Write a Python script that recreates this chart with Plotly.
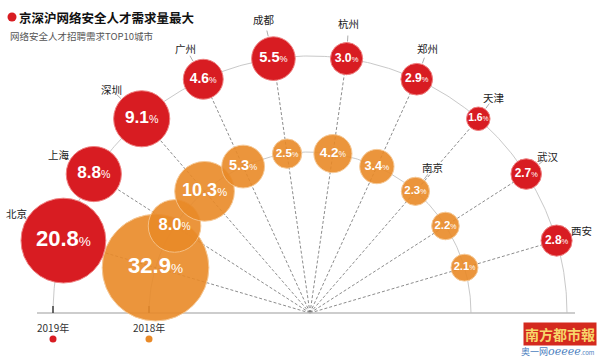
import numpy as np
import plotly.graph_objects as go

# ---------------- data ----------------
cities_2019 = ["北京", "上海", "深圳", "广州", "成都", "杭州", "郑州", "天津", "武汉", "西安"]
share_2019 = [20.8, 8.8, 9.1, 4.6, 5.5, 3.0, 2.9, 1.6, 2.7, 2.8]
share_2018 = [32.9, 8.0, 10.3, 5.3, 2.5, 4.2, 3.4, 2.3, 2.2, 2.1]
labels_2018 = ["", "", "", "", "", "", "", "南京", "", ""]
year_labels = ["2019年", "2018年"]
title_text = "京深沪网络安全人才需求量最大"
subtitle_text = "网络安全人才招聘需求TOP10城市"

# ---------------- geometry / style ----------------
W, H = 600, 361
CX, CY = 310, 313
R_OUT, R_IN = 257, 161
K = 9.3                      # radius (px) per sqrt(percent)
RED = "#d81c22"
ORANGE = "#e98a28"
FONT_CJK = "Noto Sans CJK SC"
FONT_NUM = "Liberation Sans, Arial, sans-serif"

n = len(cities_2019)
theta = np.deg2rad(180 - 180 * (np.arange(n) + 1) / (n + 1))


def polar(R, th):
    return CX + R * np.cos(th), CY - R * np.sin(th)


def radius(v):
    return K * np.sqrt(np.asarray(v, dtype=float))


def pct_text(vals):
    out, sizes = [], []
    for v, r in zip(vals, radius(vals)):
        fs = min(22.0, 5.5 + 0.42 * r)
        sizes.append(fs)
        out.append(f"<b>{v:.1f}</b><span style='font-size:{fs*0.62:.1f}px'>%</span>")
    return out, sizes


fig = go.Figure()

# arcs
t = np.linspace(0, np.pi, 300)
for R in (R_OUT, R_IN):
    ax_, ay_ = polar(R, t)
    fig.add_trace(go.Scatter(x=ax_, y=ay_, mode="lines",
                             line=dict(color="#c9c9c9", width=1), hoverinfo="skip"))

# dashed rays centre -> 2019 circles
xo, yo = polar(R_OUT, theta)
rx, ry = [], []
for x1, y1 in zip(xo, yo):
    rx += [CX, x1, None]
    ry += [CY, y1, None]
fig.add_trace(go.Scatter(x=rx, y=ry, mode="lines",
                         line=dict(color="#6e6e6e", width=0.8, dash="3px,2px"),
                         hoverinfo="skip"))

# baseline and ticks
fig.add_trace(go.Scatter(x=[37, 575], y=[CY, CY], mode="lines",
                         line=dict(color="#bdbdbd", width=1.3), hoverinfo="skip"))
tx, ty = [], []
for R in (R_OUT, R_IN):
    tx += [CX - R, CX - R, None]
    ty += [CY - 7, CY, None]
fig.add_trace(go.Scatter(x=tx, y=ty, mode="lines",
                         line=dict(color="#333333", width=1.4), hoverinfo="skip"))

sizeref = 1.0 / (2 * K ** 2)

# 2018 circles
xi, yi = polar(R_IN, theta)
txt18, fs18 = pct_text(share_2018)
fig.add_trace(go.Scatter(
    x=xi, y=yi, mode="markers+text",
    marker=dict(size=share_2018, sizemode="area", sizeref=sizeref,
                color=ORANGE, opacity=0.9, line=dict(color="#f6c48c", width=1)),
    text=txt18, textposition="middle center",
    textfont=dict(color="white", size=fs18, family=FONT_NUM),
    hoverinfo="skip"))

# 2019 circles
txt19, fs19 = pct_text(share_2019)
fig.add_trace(go.Scatter(
    x=xo, y=yo, mode="markers+text",
    marker=dict(size=share_2019, sizemode="area", sizeref=sizeref,
                color=RED, opacity=1, line=dict(color="#ee8080", width=1)),
    text=txt19, textposition="middle center",
    textfont=dict(color="white", size=fs19, family=FONT_NUM),
    hoverinfo="skip"))


# city labels with leader lines
def add_labels(R, vals, names):
    lx, ly = [], []
    for th, v, name in zip(theta, vals, names):
        if not name:
            continue
        r = K * np.sqrt(v)
        d = np.clip(th + np.deg2rad(5), np.deg2rad(20), np.deg2rad(150))
        cx0, cy0 = polar(R, th)
        dist = r + 20 - 9 * abs(np.cos(d))
        lx += [cx0 + (r + 1) * np.cos(d), cx0 + (r + 7) * np.cos(d), None]
        ly += [cy0 - (r + 1) * np.sin(d), cy0 - (r + 7) * np.sin(d), None]
        fig.add_annotation(x=cx0 + dist * np.cos(d), y=cy0 - dist * np.sin(d),
                           text=name, showarrow=False,
                           font=dict(family=FONT_CJK, size=10.5, color="#222"))
    fig.add_trace(go.Scatter(x=lx, y=ly, mode="lines",
                             line=dict(color="#888", width=0.7), hoverinfo="skip"))


add_labels(R_OUT, share_2019, cities_2019)
add_labels(R_IN, share_2018, labels_2018)

# year legend under ticks
for R, lab in zip((R_OUT, R_IN), year_labels):
    fig.add_annotation(x=CX - R, y=327, text=lab, showarrow=False,
                       font=dict(family=FONT_CJK, size=10, color="#333"))
fig.add_trace(go.Scatter(x=[CX - R_OUT, CX - R_IN], y=[339, 339], mode="markers",
                         marker=dict(size=7, color=[RED, ORANGE], opacity=1),
                         hoverinfo="skip"))

# title
fig.add_trace(go.Scatter(x=[12], y=[17], mode="markers",
                         marker=dict(size=9, color=RED), hoverinfo="skip"))
fig.add_annotation(x=17, y=17, text=f"<b>{title_text}</b>", showarrow=False,
                   xanchor="left", font=dict(family=FONT_CJK, size=12.5, color="#111"))
fig.add_annotation(x=8, y=36, text=subtitle_text, showarrow=False,
                   xanchor="left", font=dict(family=FONT_CJK, size=9.5, color="#555"))

# watermark
fig.add_annotation(x=597, y=334, xanchor="right", text="<b>南方都市報</b>", showarrow=False,
                   bgcolor="#d42a1e", borderpad=1,
                   font=dict(family=FONT_CJK, size=14, color="#f7d66a"))
fig.add_annotation(x=597, y=351, xanchor="right",
                   text="奥一网<i><span style='font-family:DejaVu Serif;font-size:11px'>oeeee</span></i><span style='font-size:6px'>.com</span>",
                   showarrow=False, font=dict(family=FONT_CJK, size=9, color="#4d7fc0"))

fig.update_layout(
    width=W, height=H, margin=dict(l=0, r=0, t=0, b=0),
    paper_bgcolor="white", plot_bgcolor="white", showlegend=False,
    hovermode=False,
    xaxis=dict(range=[0, W], visible=False, fixedrange=True),
    yaxis=dict(range=[H, 0], visible=False, fixedrange=True),
)
fig.write_html("out.html", config={"displayModeBar": False, "staticPlot": True},
               post_script="document.body.style.margin='0px';document.body.style.overflow='hidden';")
